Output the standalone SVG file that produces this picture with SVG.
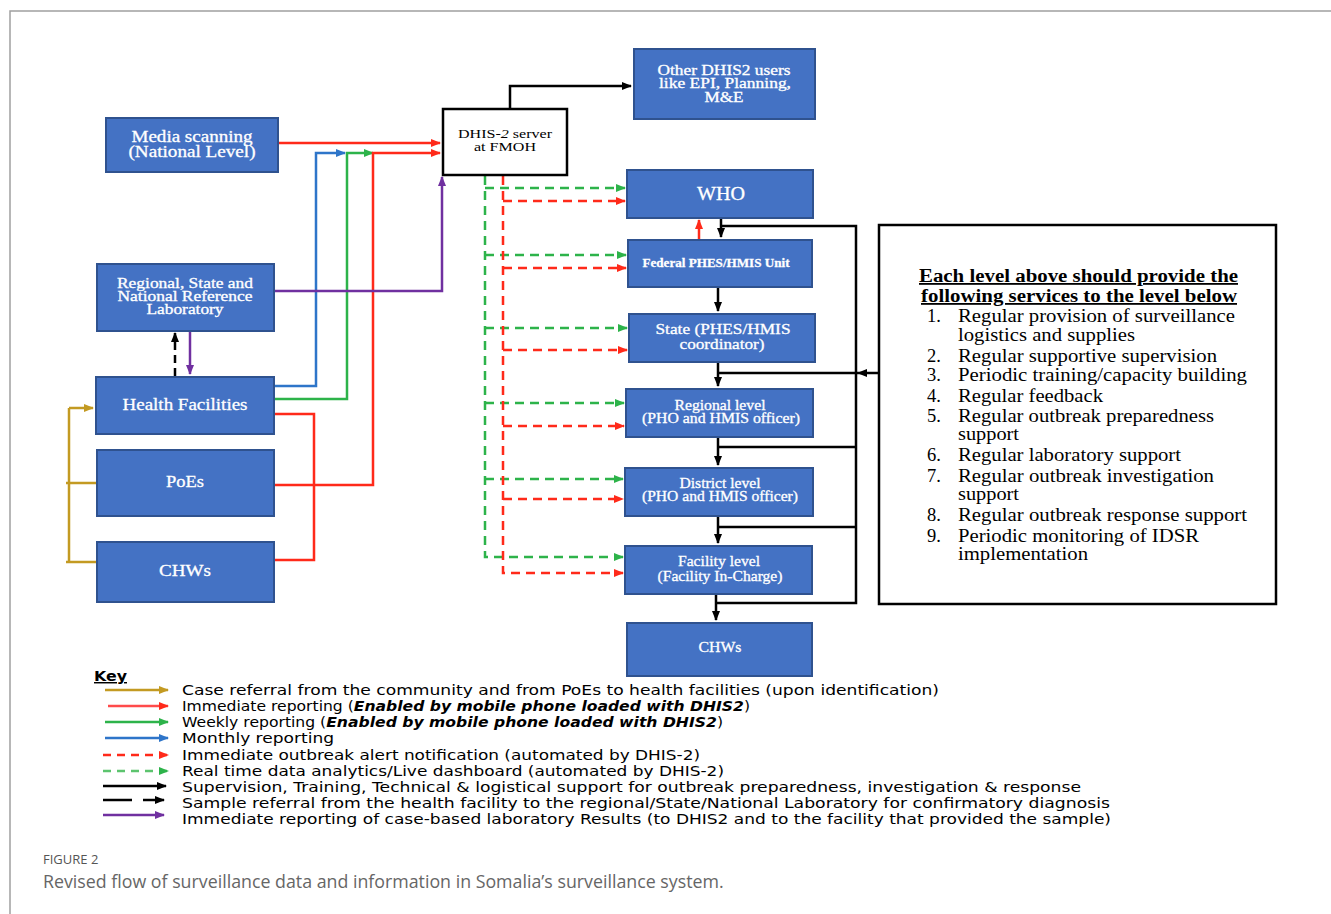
<svg xmlns="http://www.w3.org/2000/svg" width="1331" height="914" viewBox="0 0 1331 914">
<defs>
<style>
.box{fill:#4472C4;stroke:#2F528F;stroke-width:2}
.nt{font-family:"Liberation Serif","Times New Roman",serif;fill:#fff;text-anchor:middle;stroke:#fff;stroke-width:0.3}
.bt{font-family:"Liberation Serif","Times New Roman",serif;fill:#000}
.c{fill:none;stroke-width:2.5}
.red{stroke:#FF2A1A}
.grn{stroke:#2DB34A}
.blu{stroke:#2E75C9}
.pur{stroke:#7030A0}
.gld{stroke:#C39A22}
.blk{stroke:#000}
.dash{stroke-dasharray:9,6}
.key{font-family:"DejaVu Sans",Verdana,sans-serif;font-size:14.5px;fill:#000}
</style>
<marker id="aR" markerWidth="10" markerHeight="8" refX="9" refY="4" orient="auto" markerUnits="userSpaceOnUse"><path d="M0,0 L10,4 L0,8 z" fill="#FF2A1A"/></marker>
<marker id="aG" markerWidth="10" markerHeight="8" refX="9" refY="4" orient="auto" markerUnits="userSpaceOnUse"><path d="M0,0 L10,4 L0,8 z" fill="#2DB34A"/></marker>
<marker id="aB" markerWidth="10" markerHeight="8" refX="9" refY="4" orient="auto" markerUnits="userSpaceOnUse"><path d="M0,0 L10,4 L0,8 z" fill="#2E75C9"/></marker>
<marker id="aP" markerWidth="10" markerHeight="8" refX="9" refY="4" orient="auto" markerUnits="userSpaceOnUse"><path d="M0,0 L10,4 L0,8 z" fill="#7030A0"/></marker>
<marker id="aY" markerWidth="10" markerHeight="8" refX="9" refY="4" orient="auto" markerUnits="userSpaceOnUse"><path d="M0,0 L10,4 L0,8 z" fill="#C39A22"/></marker>
<marker id="aK" markerWidth="10" markerHeight="8" refX="9" refY="4" orient="auto" markerUnits="userSpaceOnUse"><path d="M0,0 L10,4 L0,8 z" fill="#000"/></marker>
</defs>
<rect width="1331" height="914" fill="#fff"/>
<path d="M1331,11 H10 V914" fill="none" stroke="#A0A0A0" stroke-width="1.5"/>

<g id="connectors">
<path class="c red" d="M278,143 H440" marker-end="url(#aR)"/>
<path class="c blu" d="M274,386 H316 V153 H345" marker-end="url(#aB)"/>
<path class="c grn" d="M274,399 H347 V153 H373" marker-end="url(#aG)"/>
<path class="c red" d="M274,485 H373 V153 H440" marker-end="url(#aR)"/>
<path class="c red" d="M274,414 H314 V560 H274"/>
<path class="c pur" d="M274,291 H442 V177" marker-end="url(#aP)"/>
<path class="c pur" d="M190,331 V374" marker-end="url(#aP)"/>
<path class="c blk" d="M175,376 V333" stroke-dasharray="8,5" marker-end="url(#aK)"/>
<path class="c gld" d="M69,408 H93" marker-end="url(#aY)"/>
<path class="c gld" d="M69,408 V562 M66,483 H97 M66,562 H97"/>
<path class="c blk" d="M510,108 V86 H631" marker-end="url(#aK)"/>
<path class="c grn dash" d="M485,176 V557 H623" marker-end="url(#aG)"/>
<path class="c grn dash" d="M485,188 H625" marker-end="url(#aG)"/>
<path class="c grn dash" d="M485,255 H626" marker-end="url(#aG)"/>
<path class="c grn dash" d="M485,328 H627" marker-end="url(#aG)"/>
<path class="c grn dash" d="M485,403 H624" marker-end="url(#aG)"/>
<path class="c grn dash" d="M485,479 H623" marker-end="url(#aG)"/>
<path class="c red dash" d="M503,176 V573 H623" marker-end="url(#aR)"/>
<path class="c red dash" d="M503,201 H625" marker-end="url(#aR)"/>
<path class="c red dash" d="M503,268 H626" marker-end="url(#aR)"/>
<path class="c red dash" d="M503,350 H627" marker-end="url(#aR)"/>
<path class="c red dash" d="M503,426 H624" marker-end="url(#aR)"/>
<path class="c red dash" d="M503,499 H623" marker-end="url(#aR)"/>
<path class="c red" d="M699,239 V220" marker-end="url(#aR)"/>
<path class="c blk" d="M721,218 V237" marker-end="url(#aK)"/>
<path class="c blk" d="M718,287 V311" marker-end="url(#aK)"/>
<path class="c blk" d="M718,362 V386" marker-end="url(#aK)"/>
<path class="c blk" d="M718,437 V465" marker-end="url(#aK)"/>
<path class="c blk" d="M718,516 V543" marker-end="url(#aK)"/>
<path class="c blk" d="M716,594 V620" marker-end="url(#aK)"/>
<path class="c blk" d="M721,226 H856 V603 H716 M856,447 H718 M856,527 H718 M858,373 H718"/>
<path class="c blk" d="M878,373 H858" marker-end="url(#aK)"/>
</g>

<g id="media"><rect class="box" x="106" y="118" width="172" height="54"/><text class="nt" font-size="16"><tspan x="192" y="142" textLength="121" lengthAdjust="spacingAndGlyphs">Media scanning</tspan><tspan x="192" y="157" textLength="127" lengthAdjust="spacingAndGlyphs">(National Level)</tspan></text></g>
<g id="lab"><rect class="box" x="97" y="264" width="177" height="67"/><text class="nt" font-size="14"><tspan x="185" y="288" textLength="136" lengthAdjust="spacingAndGlyphs">Regional, State and</tspan><tspan x="185" y="301" textLength="135" lengthAdjust="spacingAndGlyphs">National Reference</tspan><tspan x="185" y="314" textLength="77" lengthAdjust="spacingAndGlyphs">Laboratory</tspan></text></g>
<g id="hf"><rect class="box" x="96" y="377" width="178" height="57"/><text class="nt" font-size="17" x="185" y="410" textLength="125" lengthAdjust="spacingAndGlyphs">Health Facilities</text></g>
<g id="poes"><rect class="box" x="97" y="450" width="177" height="66"/><text class="nt" font-size="17" x="185" y="487" textLength="38" lengthAdjust="spacingAndGlyphs">PoEs</text></g>
<g id="chws-left"><rect class="box" x="97" y="542" width="177" height="60"/><text class="nt" font-size="17" x="185" y="576" textLength="52" lengthAdjust="spacingAndGlyphs">CHWs</text></g>
<g id="dhis"><rect x="443" y="109" width="124" height="66" fill="#fff" stroke="#000" stroke-width="2.5"/><text class="bt" font-size="13.5" text-anchor="middle"><tspan x="505" y="138" textLength="94" lengthAdjust="spacingAndGlyphs">DHIS-<tspan font-style="italic">2</tspan> server</tspan><tspan x="505" y="151" textLength="62" lengthAdjust="spacingAndGlyphs">at FMOH</tspan></text></g>
<g id="other"><rect class="box" x="634" y="49" width="181" height="70"/><text class="nt" font-size="14"><tspan x="724" y="75" textLength="133" lengthAdjust="spacingAndGlyphs">Other DHIS2 users</tspan><tspan x="725" y="88" textLength="132" lengthAdjust="spacingAndGlyphs">like EPI, Planning,</tspan><tspan x="724" y="102" textLength="39" lengthAdjust="spacingAndGlyphs">M&amp;E</tspan></text></g>
<g id="who"><rect class="box" x="627" y="170" width="186" height="48"/><text class="nt" font-size="18" x="721" y="200" textLength="48" lengthAdjust="spacingAndGlyphs">WHO</text></g>
<g id="federal"><rect class="box" x="628" y="240" width="184" height="47"/><text class="nt" font-size="13" font-weight="bold" x="716" y="267" textLength="147" lengthAdjust="spacingAndGlyphs">Federal PHES/HMIS Unit</text></g>
<g id="state"><rect class="box" x="629" y="314" width="186" height="48"/><text class="nt" font-size="15"><tspan x="723" y="334" textLength="135" lengthAdjust="spacingAndGlyphs">State (PHES/HMIS</tspan><tspan x="722" y="349" textLength="85" lengthAdjust="spacingAndGlyphs">coordinator)</tspan></text></g>
<g id="regional"><rect class="box" x="626" y="389" width="187" height="48"/><text class="nt" font-size="14"><tspan x="720" y="410" textLength="91" lengthAdjust="spacingAndGlyphs">Regional level</tspan><tspan x="721" y="423" textLength="158" lengthAdjust="spacingAndGlyphs">(PHO and HMIS officer)</tspan></text></g>
<g id="district"><rect class="box" x="625" y="468" width="188" height="48"/><text class="nt" font-size="14"><tspan x="720" y="488" textLength="81" lengthAdjust="spacingAndGlyphs">District level</tspan><tspan x="720" y="501" textLength="156" lengthAdjust="spacingAndGlyphs">(PHO and HMIS officer)</tspan></text></g>
<g id="facility"><rect class="box" x="625" y="546" width="187" height="48"/><text class="nt" font-size="15"><tspan x="719" y="566" textLength="82" lengthAdjust="spacingAndGlyphs">Facility level</tspan><tspan x="720" y="581" textLength="125" lengthAdjust="spacingAndGlyphs">(Facility In-Charge)</tspan></text></g>
<g id="chws-right"><rect class="box" x="627" y="623" width="185" height="53"/><text class="nt" font-size="15" x="720" y="652" textLength="43" lengthAdjust="spacingAndGlyphs">CHWs</text></g>

<g id="services">
<rect x="879" y="225" width="397" height="379" fill="#fff" stroke="#000" stroke-width="2.5"/>
<text class="bt" font-size="18" font-weight="bold" text-decoration="underline"><tspan x="919" y="282" textLength="319" lengthAdjust="spacingAndGlyphs">Each level above should provide the</tspan><tspan x="921" y="302" textLength="316" lengthAdjust="spacingAndGlyphs">following services to the level below</tspan></text>
<text class="bt" font-size="18.5">
<tspan x="927" y="322">1.</tspan><tspan x="958" y="322" textLength="277" lengthAdjust="spacingAndGlyphs">Regular provision of surveillance</tspan>
<tspan x="958" y="341" textLength="177" lengthAdjust="spacingAndGlyphs">logistics and supplies</tspan>
<tspan x="927" y="362">2.</tspan><tspan x="958" y="362" textLength="259" lengthAdjust="spacingAndGlyphs">Regular supportive supervision</tspan>
<tspan x="927" y="381">3.</tspan><tspan x="958" y="381" textLength="289" lengthAdjust="spacingAndGlyphs">Periodic training/capacity building</tspan>
<tspan x="927" y="402">4.</tspan><tspan x="958" y="402" textLength="145" lengthAdjust="spacingAndGlyphs">Regular feedback</tspan>
<tspan x="927" y="422">5.</tspan><tspan x="958" y="422" textLength="256" lengthAdjust="spacingAndGlyphs">Regular outbreak preparedness</tspan>
<tspan x="958" y="440" textLength="61" lengthAdjust="spacingAndGlyphs">support</tspan>
<tspan x="927" y="461">6.</tspan><tspan x="958" y="461" textLength="223" lengthAdjust="spacingAndGlyphs">Regular laboratory support</tspan>
<tspan x="927" y="482">7.</tspan><tspan x="958" y="482" textLength="256" lengthAdjust="spacingAndGlyphs">Regular outbreak investigation</tspan>
<tspan x="958" y="500" textLength="61" lengthAdjust="spacingAndGlyphs">support</tspan>
<tspan x="927" y="521">8.</tspan><tspan x="958" y="521" textLength="289" lengthAdjust="spacingAndGlyphs">Regular outbreak response support</tspan>
<tspan x="927" y="542">9.</tspan><tspan x="958" y="542" textLength="241" lengthAdjust="spacingAndGlyphs">Periodic monitoring of IDSR</tspan>
<tspan x="958" y="560" textLength="130" lengthAdjust="spacingAndGlyphs">implementation</tspan>
</text>
</g>

<g id="key">
<text class="key" x="94" y="681" font-weight="bold" text-decoration="underline" textLength="33" lengthAdjust="spacingAndGlyphs">Key</text>
<path class="c gld" d="M105,690 H168" marker-end="url(#aY)"/>
<path class="c" stroke="#FF4B4B" d="M108,706 H168" marker-end="url(#aR)"/>
<path class="c grn" d="M105,722 H168" marker-end="url(#aG)"/>
<path class="c blu" d="M105,738 H168" marker-end="url(#aB)"/>
<path class="c red" d="M103,755 H168" stroke-dasharray="8,6" marker-end="url(#aR)"/>
<path class="c" stroke="#5CC46E" d="M103,771 H168" stroke-dasharray="8,6" marker-end="url(#aG)"/>
<path class="c blk" d="M103,786 H166" marker-end="url(#aK)"/>
<path class="c blk" stroke-width="3.5" d="M103,800 H132"/>
<path class="c blk" stroke-width="3" d="M143,800 H164" marker-end="url(#aK)"/>
<path class="c pur" stroke-width="3.5" d="M103,815 H164" marker-end="url(#aP)"/>
<text class="key" x="182" y="695" textLength="757" lengthAdjust="spacingAndGlyphs">Case referral from the community and from PoEs to health facilities (upon identification)</text>
<text class="key" x="182" y="711" textLength="568" lengthAdjust="spacingAndGlyphs">Immediate reporting (<tspan font-weight="bold" font-style="italic">Enabled by mobile phone loaded with DHIS2</tspan>)</text>
<text class="key" x="182" y="727" textLength="541" lengthAdjust="spacingAndGlyphs">Weekly reporting (<tspan font-weight="bold" font-style="italic">Enabled by mobile phone loaded with DHIS2</tspan>)</text>
<text class="key" x="182" y="743" textLength="152" lengthAdjust="spacingAndGlyphs">Monthly reporting</text>
<text class="key" x="182" y="759.5" textLength="518" lengthAdjust="spacingAndGlyphs">Immediate outbreak alert notification (automated by DHIS-2)</text>
<text class="key" x="182" y="775.5" textLength="542" lengthAdjust="spacingAndGlyphs">Real time data analytics/Live dashboard (automated by DHIS-2)</text>
<text class="key" x="182" y="791.5" textLength="899" lengthAdjust="spacingAndGlyphs">Supervision, Training, Technical &amp; logistical support for outbreak preparedness, investigation &amp; response</text>
<text class="key" x="182" y="807.5" textLength="928" lengthAdjust="spacingAndGlyphs">Sample referral from the health facility to the regional/State/National Laboratory for confirmatory diagnosis</text>
<text class="key" x="182" y="823.5" textLength="929" lengthAdjust="spacingAndGlyphs">Immediate reporting of case-based laboratory Results (to DHIS2 and to the facility that provided the sample)</text>
</g>

<g id="caption">
<text x="43" y="864" font-family="'Open Sans','Noto Sans',sans-serif" font-size="13" fill="#555">FIGURE 2</text>
<text x="43" y="888" font-family="'Open Sans','Noto Sans',sans-serif" font-size="17.8" fill="#666">Revised flow of surveillance data and information in Somalia’s surveillance system.</text>
</g>
</svg>
